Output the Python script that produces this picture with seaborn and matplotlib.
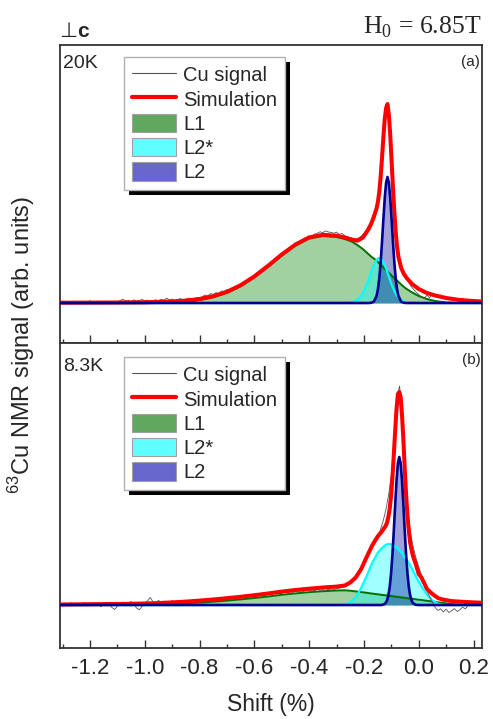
import numpy as np
import matplotlib
matplotlib.use("Agg")
import matplotlib.pyplot as plt
import seaborn as sns
from matplotlib.patches import Patch, Rectangle
from matplotlib.lines import Line2D
from matplotlib.ticker import MultipleLocator

sns.set_theme(style="white")
plt.rcParams["font.family"] = ["Liberation Sans", "DejaVu Sans"]
plt.rcParams["mathtext.fontset"] = "custom"
plt.rcParams["mathtext.rm"] = "Liberation Serif"
plt.rcParams["mathtext.sf"] = "Liberation Sans"
plt.rcParams["axes.unicode_minus"] = False

# ---------------- panel (a) : 20K ----------------
grid_a = [-1.31, -1.2, -1.1, -1.0, -0.9, -0.85, -0.8, -0.75, -0.7, -0.65, -0.6, -0.55,
          -0.5, -0.45, -0.4, -0.35, -0.3, -0.27, -0.245, -0.224, -0.204, -0.184, -0.174,
          -0.164, -0.154, -0.149, -0.144, -0.139, -0.134, -0.129, -0.124, -0.119, -0.114,
          -0.109, -0.104, -0.099, -0.094, -0.089, -0.084, -0.079, -0.074, -0.064, -0.054,
          -0.044, -0.024, 0.0, 0.03, 0.06, 0.1, 0.15, 0.2, 0.23]
l1_a = [0, 0, 0, 0.1, 0.6, 1.4, 2.9, 5.7, 10.1, 16.7, 25.5, 36.1, 47.4, 57.4, 64.5, 67, 66,
        64, 61.5, 58, 54, 49, 46.5, 44.5, 42.5, 41, 39.5, 38, 37, 35.5, 34, 33, 31.5, 30, 29,
        27.5, 26, 25, 23.5, 22.5, 21, 18.5, 16, 14, 10.5, 7, 4, 2, 0.6, 0, 0, 0]
l2s_a = [0] * 17 + [0.1, 0.6, 2.8, 9.5, 22.5, 30.5, 37.9, 43.1, 44.5, 45, 44.5, 43.1, 40.8,
                    37.9, 34.4, 30.5, 26.5, 22.5, 18.7, 15.3, 12.2, 9.5, 7.2, 5.4, 2.8, 1.4,
                    0.6, 0.1] + [0] * 7
l2_a = [0] * 22 + [0.2, 1.3, 6.9, 13.6, 24.6, 40.5, 61, 83.8, 105, 120.4, 126, 120.4, 105,
                   83.8, 61, 40.5, 24.6, 13.6, 6.9, 1.3, 0.2, 0] + [0] * 8
sim_a = [0.3, 0.4, 0.5, 0.7, 1.5, 2.4, 4.0, 6.8, 11.2, 17.8, 26.6, 37.2, 48.5, 58.5, 65.6,
         68.2, 67.3, 65.5, 63.5, 62.3, 65.3, 73.5, 79, 86, 94.5, 101, 111, 126, 145, 166,
         184, 195, 199, 188, 168, 142, 115, 91, 71, 56, 46, 35, 29, 25, 19, 14, 10, 7.5, 5,
         3, 2, 1.5]
sig_x = list(np.round(np.arange(-131, 24) / 100.0, 2))
sig_a = [0.5, 0.2, 0.8, 0.4, 1.2, 0.3, 0.6, 1.5, 0.9, 0.4,
         1.0, 2.2, 0.8, 1.6, 0.5, 1.1, 0.3, 0.9, 1.7, 0.6,
         1.3, 0.7, 2.5, 3.8, 1.9, 2.8, 1.2, 3.2, 2.0, 2.6,
         3.5, 2.2, 2.9, 1.8, 2.6, 3.1, 2.4, 3.6, 2.9, 4.8,
         3.2, 3.9, 2.7, 3.5, 4.4, 3.1, 3.8, 4.9, 4.2, 3.7,
         5.5, 4.8, 6.2, 8.0, 7.1, 9.4, 8.6, 10.3, 9.2, 12.1,
         11.4, 13.6, 12.8, 15.3, 16.0, 17.2, 18.9, 20.1, 21.3, 23.8,
         25.0, 27.4, 28.1, 30.7, 32.2, 34.9, 36.0, 38.6, 40.1, 42.3,
         45.0, 46.8, 49.3, 51.0, 52.9, 55.4, 56.8, 58.7, 60.4, 62.5,
         64.0, 66.3, 67.1, 68.9, 69.8, 71.2, 70.4, 72.1, 71.0, 70.6,
         69.8, 70.9, 68.7, 69.5, 67.2, 66.0, 65.3, 64.1, 63.8, 64.9,
         66.8, 69.5, 73.9, 78.0, 83.2, 89.5, 99.0, 122.0, 160.0, 194.0,
         190.0, 148.0, 96.0, 60.0, 43.5, 33.8, 26.5, 22.0, 17.5, 14.0,
         11.0, 8.5, 6.0, 4.5, 7.8, 5.2, 9.0, 8.1, 6.6, 7.9,
         5.1, 6.8, 4.0, 5.5, 3.1, 4.6, 2.8, 4.9, 2.2, 3.6,
         1.9, 3.5, 2.1, 1.2, 2.4]

# ---------------- panel (b) : 8.3K ----------------
grid_b = [-1.31, -1.2, -1.1, -1.0, -0.95, -0.9, -0.85, -0.8, -0.75, -0.7, -0.65, -0.6, -0.55,
          -0.5, -0.45, -0.4, -0.35, -0.3, -0.27, -0.25, -0.23, -0.21, -0.19, -0.17, -0.15,
          -0.136, -0.126, -0.121, -0.116, -0.111, -0.106, -0.101, -0.096, -0.091, -0.086,
          -0.081, -0.076, -0.071, -0.066, -0.061, -0.056, -0.051, -0.046, -0.041, -0.036,
          -0.031, -0.026, -0.021, -0.011, 0.0, 0.01, 0.03, 0.05, 0.07, 0.09, 0.12, 0.16,
          0.2, 0.23]
l1_b = [0, 0, 0, 0.2, 0.5, 1.0, 1.6, 2.4, 3.3, 4.4, 5.6, 7.0, 8.5, 10.2, 11.6, 12.8, 13.8,
        14.5, 14.7, 14.3, 13.6, 12.9, 12.2, 11.4, 10.7, 10.2, 9.8, 9.7, 9.5, 9.3, 9.1, 9.0,
        8.8, 8.6, 8.4, 8.2, 8.1, 7.9, 7.7, 7.5, 7.3, 7.2, 7.0, 6.8, 6.6, 6.4, 6.3, 6.1, 5.7,
        5.3, 5.0, 4.2, 3.5, 2.7, 2.0, 0.9, 0.2, 0, 0]
l2s_b = [0] * 18 + [0.5, 2.5, 7.5, 17, 29, 42, 52, 56.5, 59, 60, 60.6, 61, 61, 60.7, 60.3,
                    59.6, 58.7, 57.6, 56.4, 55, 53.5, 51.8, 50, 48, 46, 44, 42, 39.5, 37,
                    34.5, 29, 23.5, 18.5, 10.5, 4.5, 1.3, 0.3, 0, 0, 0, 0]
l2_b = [0] * 26 + [0.8, 1.9, 4.5, 9.3, 17.8, 31.2, 50.2, 74.1, 100.3, 124.5, 141.8, 148,
                   141.8, 124.5, 100.3, 74.1, 50.2, 31.2, 17.8, 9.3, 4.5, 1.9, 0.3] + [0] * 10
sim_b = [0.5, 0.8, 1.0, 1.5, 1.9, 2.6, 3.4, 4.4, 5.5, 6.8, 8.2, 9.8, 11.5, 13.4, 15.0, 16.3,
         17.5, 18.4, 19.5, 22.5, 27.5, 36, 48, 59.5, 68.5, 73, 77, 79, 82, 88, 96, 109, 127,
         150, 174, 196, 211, 213, 208, 190, 165, 136, 110, 89, 73.5, 62, 55, 49, 41, 31, 27.5,
         16, 11, 7, 5.3, 3.9, 3.2, 2.6, 2.3]
sig_b = [1.2, 0.4, 1.8, 0.6, 2.1, 0.9, 1.5, 0.3, 1.1, 2.4,
         0.8, 1.6, -0.5, 1.9, 0.7, -1.8, 1.2, 2.6, 0.5, -2.5,
         -4.5, -1.2, 1.4, 2.8, -0.8, 1.6, 3.5, 0.9, -3.0, -4.8,
         -1.5, 2.2, 4.1, 7.5, 3.2, 1.8, 4.6, 2.5, 3.9, 1.6,
         3.0, 4.4, 2.2, 3.6, 1.9, 3.3, 4.8, 2.9, 3.7, 4.9,
         3.5, 4.6, 5.8, 4.1, 5.3, 4.6, 6.2, 5.0, 6.9, 5.4,
         6.6, 5.8, 7.3, 6.4, 7.9, 6.9, 8.4, 7.2, 8.8, 7.9,
         9.2, 8.5, 9.9, 9.1, 10.6, 9.8, 11.1, 10.2, 11.8, 10.9,
         12.1, 11.4, 12.9, 12.0, 13.4, 12.5, 13.9, 12.8, 14.2, 13.4,
         14.6, 13.8, 15.1, 14.3, 15.6, 14.7, 15.3, 14.5, 15.8, 14.9,
         15.6, 16.4, 16.9, 17.5, 18.2, 19.6, 21.4, 24.1, 27.0, 31.0,
         36.5, 42.0, 47.5, 53.0, 58.0, 63.5, 69.5, 75.0, 84.0, 95.0,
         110.0, 130.0, 165.0, 205.0, 219.0, 190.0, 135.0, 95.0, 72.0, 58.0,
         47.0, 38.0, 30.0, 22.0, 14.5, 8.0, 3.0, -2.5, -5.5, -3.8,
         -6.9, -4.2, -7.5, -5.8, -3.6, -6.4, -4.9, -2.2, -3.8, -0.8,
         1.2, 2.5, 0.6, 1.9, 1.1]

legend_labels = ["Cu signal", "Simulation", "L1", "L2*", "L2"]
xticks = [-1.2, -1.0, -0.8, -0.6, -0.4, -0.2, 0.0, 0.2]
xtick_labels = ["-1.2", "-1.0", "-0.8", "-0.6", "-0.4", "-0.2", "0.0", "0.2"]

# ---------------- figure ----------------
fig = plt.figure(figsize=(4.93, 7.19), dpi=100)
fig.patch.set_facecolor("white")
ax_a = fig.add_axes([60 / 493, 1 - 343 / 719, 422 / 493, 298 / 719])
ax_b = fig.add_axes([60 / 493, 1 - 648 / 719, 422 / 493, 305 / 719])


def draw_panel(ax, grid, l1, l2s, l2, sim, sig, ylim):
    ax.fill_between(grid, 0, l1, color="#008000", alpha=0.37, lw=0, zorder=1)
    ax.fill_between(grid, 0, l2s, color="#00ffff", alpha=0.37, lw=0, zorder=1.1)
    ax.fill_between(grid, 0, l2, color="#000096", alpha=0.37, lw=0, zorder=1.2)
    sns.lineplot(x=grid, y=l1, ax=ax, color="#007000", linewidth=1.4, zorder=2)
    sns.lineplot(x=grid, y=l2s, ax=ax, color="#00ffff", linewidth=1.6, zorder=2.1)
    sns.lineplot(x=sig_x, y=sig, ax=ax, color="#555555", linewidth=0.6, zorder=3)
    sns.lineplot(x=grid, y=sim, ax=ax, color="#ff0000", linewidth=2.9, zorder=4)
    sns.lineplot(x=grid, y=l2, ax=ax, color="#000090", linewidth=1.9, zorder=5)
    ax.set_xlim(-1.3095, 0.231)
    ax.set_ylim(*ylim)
    ax.set_yticks([])
    ax.set_xticks(xticks)
    ax.xaxis.set_minor_locator(MultipleLocator(0.1))
    ax.tick_params(axis="x", which="major", direction="in", length=6, width=1.0,
                   color="#333333", bottom=True, top=False, labelsize=16, pad=7)
    ax.tick_params(axis="x", which="minor", direction="in", length=3, width=1.0,
                   color="#333333", bottom=True, top=False)
    ax.set_xlabel("")
    ax.set_ylabel("")
    ax.set_facecolor("white")
    for sp in ax.spines.values():
        sp.set_color("#333333")
        sp.set_linewidth(1.3)
        sp.set_visible(True)


draw_panel(ax_a, grid_a, l1_a, l2s_a, l2_a, sim_a, sig_a, (-40, 258))
draw_panel(ax_b, grid_b, l1_b, l2s_b, l2_b, sim_b, sig_b, (-43, 262))
ax_a.tick_params(labelbottom=False)
ax_b.set_xticklabels(xtick_labels)

handles = [Line2D([], [], color="#555555", lw=0.8),
           Line2D([], [], color="#ff0000", lw=3),
           Patch(facecolor="#60a860", edgecolor="#a0a0a0", lw=0.8),
           Patch(facecolor="#60ffff", edgecolor="#a0a0a0", lw=0.8),
           Patch(facecolor="#6666cc", edgecolor="#a0a0a0", lw=0.8)]


def add_legend(ax, top_frac):
    leg = ax.legend(handles, legend_labels, loc="upper left",
                    bbox_to_anchor=((124 - 60) / 422, top_frac), borderaxespad=0,
                    fontsize=14.5, handlelength=2.2, handleheight=1.05, labelspacing=0.2,
                    handletextpad=0.35, borderpad=0.4, fancybox=False, framealpha=1,
                    edgecolor="#b0b0b0")
    leg.get_frame().set_linewidth(1.0)
    leg.set_zorder(10)
    return leg


leg_a = add_legend(ax_a, (343 - 57) / 298)
leg_b = add_legend(ax_b, (648 - 357) / 305)

fig.canvas.draw()
for ax, leg in ((ax_a, leg_a), (ax_b, leg_b)):
    bb = leg.get_window_extent()
    inv = ax.transAxes.inverted()
    x0, y0 = inv.transform((bb.x0 + 5, bb.y0 - 5))
    x1, y1 = inv.transform((bb.x1 + 5, bb.y1 - 5))
    ax.add_patch(Rectangle((x0, y0), x1 - x0, y1 - y0, transform=ax.transAxes,
                           facecolor="black", edgecolor="none", zorder=9, clip_on=False))

# panel labels
ax_a.text(0.007, (343 - 68) / 298, "20K", transform=ax_a.transAxes, fontsize=14,
          va="baseline", ha="left")
ax_b.text(0.007, (648 - 371) / 305, "8.3K", transform=ax_b.transAxes, fontsize=14,
          va="baseline", ha="left")
ax_a.text(0.996, (343 - 66) / 298, "(a)", transform=ax_a.transAxes, fontsize=11,
          va="baseline", ha="right")
ax_b.text(0.996, (648 - 364) / 305, "(b)", transform=ax_b.transAxes, fontsize=11,
          va="baseline", ha="right")

# header texts
fig.text(59 / 493, 1 - 37 / 719, "\u22a5", fontsize=15, family=["DejaVu Sans"],
         va="baseline", ha="left")
fig.text(77 / 493, 1 - 37 / 719, "c", fontsize=15, fontweight="bold", va="baseline",
         ha="left")
fig.text(481 / 493, 1 - 33 / 719, r"H$_{\mathrm{0}}$ = 6.85T", fontsize=18.5,
         family=["Liberation Serif"], va="baseline", ha="right")

# axis labels
fig.text(22 / 493, 1 - 345 / 719, r"$^{\mathsf{63}}$Cu NMR signal (arb. units)",
         rotation=90, fontsize=17, va="center", ha="center")
fig.text(271 / 493, 1 - 705 / 719, "Shift (%)", fontsize=16.5, va="center", ha="center")

fig.savefig("out.png", dpi=100, facecolor="white")
